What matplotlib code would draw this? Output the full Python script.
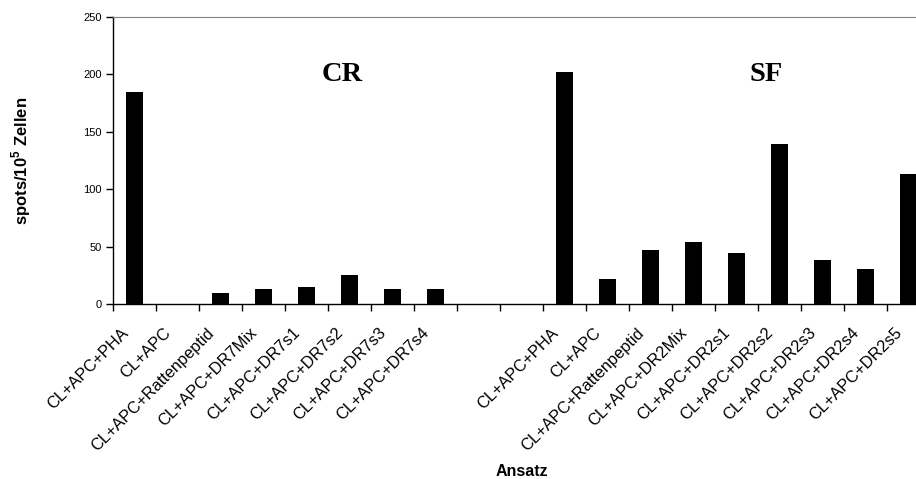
import matplotlib
matplotlib.use("Agg")
import matplotlib.pyplot as plt
import matplotlib.transforms as mtransforms
import numpy as np

plt.rcParams['font.family'] = ['Liberation Sans', 'DejaVu Sans']

cr_labels = ['CL+APC+PHA', 'CL+APC', 'CL+APC+Rattenpeptid', 'CL+APC+DR7Mix',
             'CL+APC+DR7s1', 'CL+APC+DR7s2', 'CL+APC+DR7s3', 'CL+APC+DR7s4']
cr_values = [185, 0, 10, 13, 15, 25.5, 13, 13]

sf_labels = ['CL+APC+PHA', 'CL+APC', 'CL+APC+Rattenpeptid', 'CL+APC+DR2Mix',
             'CL+APC+DR2s1', 'CL+APC+DR2s2', 'CL+APC+DR2s3', 'CL+APC+DR2s4',
             'CL+APC+DR2s5']
sf_values = [202, 22, 47, 54, 44, 139, 38.5, 30.5, 113]

n_gap = 2  # empty categories between the two groups

labels = cr_labels + [''] * n_gap + sf_labels
x_cr = np.arange(len(cr_labels))
x_sf = np.arange(len(sf_labels)) + len(cr_labels) + n_gap
n = len(labels)

fig = plt.figure(figsize=(9.16, 4.79), dpi=100)
ax = fig.add_axes([113 / 916, 1 - 304 / 479, 817 / 916, 287 / 479])

ax.bar(x_cr, cr_values, width=0.4, color='black')
ax.bar(x_sf, sf_values, width=0.4, color='black')

ax.set_xlim(-0.5, n - 0.5)
ax.set_ylim(0, 250)
ax.set_yticks(np.arange(0, 251, 50))
ax.tick_params(axis='y', labelsize=8, length=5, width=1, colors='black', pad=3)

ax.set_xticks(np.arange(n))
ax.set_xticklabels(labels, rotation=45, ha='right', va='center',
                   rotation_mode='anchor', fontsize=11.8)
ax.set_xticks(np.arange(n + 1) - 0.5, minor=True)
ax.tick_params(axis='x', which='major', length=0, pad=19)
ax.tick_params(axis='x', which='minor', length=5, width=1, color='black')
shift = mtransforms.ScaledTranslation(-9 / 100, 0, fig.dpi_scale_trans)
for lab in ax.get_xticklabels():
    lab.set_transform(lab.get_transform() + shift)

ax.spines['right'].set_visible(False)
ax.spines['top'].set_color('#808080')
ax.spines['left'].set_linewidth(1)
ax.spines['bottom'].set_linewidth(1)

ax.set_ylabel('spots/10$^\\mathregular{5}$ Zellen', fontsize=12, fontweight='bold')
ax.yaxis.set_label_coords(-0.098, 0.5)
ax.set_xlabel('Ansatz', fontsize=11.5, fontweight='bold')
ax.xaxis.set_label_coords(0.5, -0.556)

ax.text(4.83, 200, 'CR', fontsize=20.5, fontweight='bold', family='Liberation Serif',
        ha='center', va='center')
ax.text(14.69, 200, 'SF', fontsize=20.5, fontweight='bold', family='Liberation Serif',
        ha='center', va='center')

fig.savefig('out.png', dpi=100)
